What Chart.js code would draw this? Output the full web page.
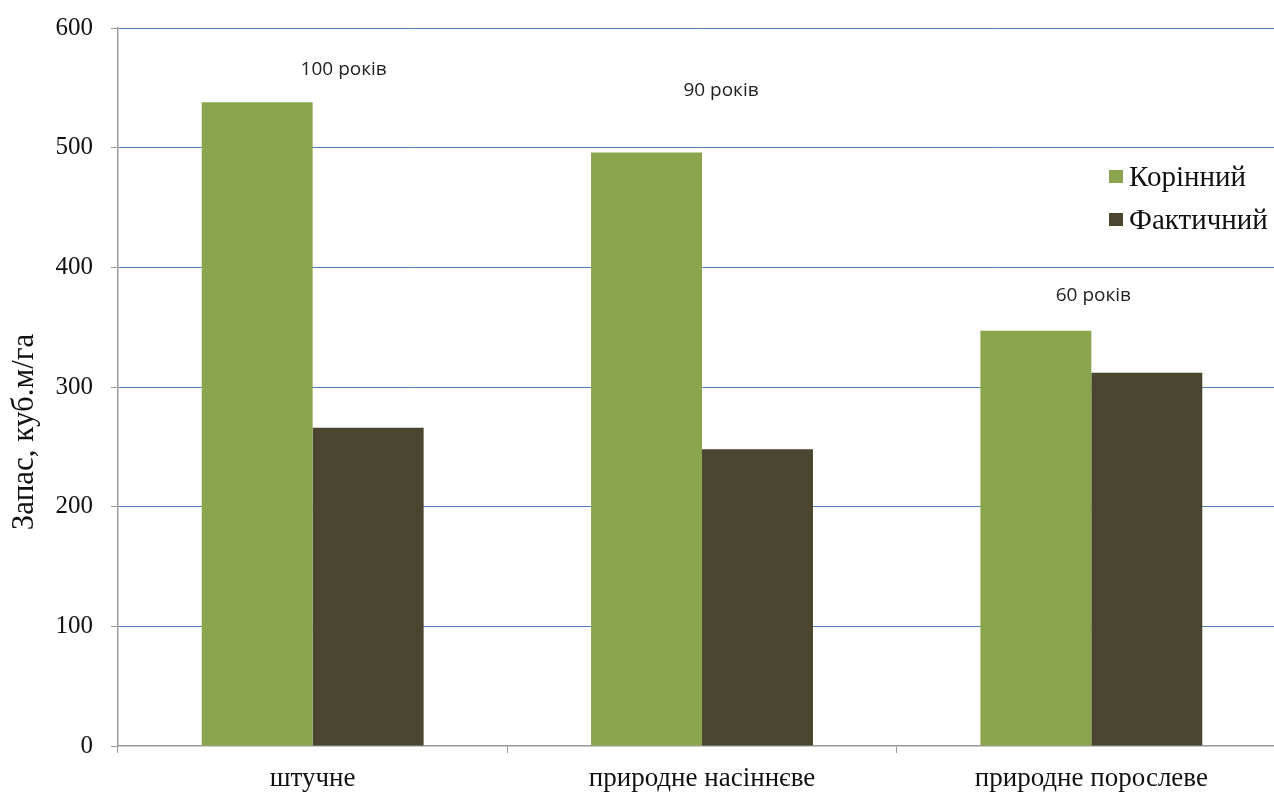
<!DOCTYPE html>
<html>
<head>
<meta charset="utf-8">
<script src="https://cdn.jsdelivr.net/npm/chart.js@4.4.0/dist/chart.umd.min.js"></script>
<style>
    html, body { margin: 0; padding: 0; background: #fff; overflow: hidden; }
    #wrap { width: 1290px; height: 793px; }
</style>
</head>
<body>
<div id="wrap"><canvas id="stock-chart"></canvas></div>
<script>
// Data
const categories = ['штучне', 'природне насіннєве', 'природне порослеве'];
const seriesNames = ['Корінний', 'Фактичний'];
const rootStock = [538, 496, 347];
const actualStock = [266, 248, 312];
const yTicks = [0, 100, 200, 300, 400, 500, 600];
const yTitle = 'Запас, куб.м/га';
const ageLabels = ['100 років', '90 років', '60 років'];
const ageLabelLevels = [565, 548, 376];

const colors = ['#8aa54e', '#4a452e'];
const serif = '"Liberation Serif", "Times New Roman", serif';

// Age notes above each group
const ageNotes = {
    id: 'ageNotes',
    afterDatasetsDraw(chart) {
        const { ctx, scales: { x, y } } = chart;
        const shifts = [31, 19, 2];
        ctx.save();
        ctx.font = '19px "Open Sans", "Liberation Sans", sans-serif';
        ctx.fillStyle = '#222';
        ctx.textAlign = 'center';
        ctx.textBaseline = 'middle';
        ageLabels.forEach((txt, i) => {
            ctx.fillText(txt, x.getPixelForValue(i) + shifts[i], y.getPixelForValue(ageLabelLevels[i]));
        });
        ctx.restore();
    }
};

// Legend inside the plot on the right, plus the vertical axis title
const sideLegend = {
    id: 'sideLegend',
    afterDraw(chart) {
        const { ctx } = chart;
        ctx.save();
        ctx.font = '29px ' + serif;
        ctx.textBaseline = 'middle';
        chart.data.datasets.forEach((ds, i) => {
            const cy = 177 + i * 43;
            ctx.fillStyle = ds.backgroundColor;
            ctx.fillRect(1109, cy - 7, 14, 13);
            ctx.fillStyle = '#111';
            ctx.fillText(ds.label, 1129, cy + 1);
        });

        ctx.translate(25, 432);
        ctx.rotate(-Math.PI / 2);
        ctx.textAlign = 'center';
        ctx.font = '31px ' + serif;
        ctx.fillText(yTitle, 0, 0);
        ctx.restore();
    }
};

new Chart(document.getElementById('stock-chart'), {
    type: 'bar',
    data: {
        labels: categories,
        datasets: [
            { label: seriesNames[0], data: rootStock, backgroundColor: colors[0] },
            { label: seriesNames[1], data: actualStock, backgroundColor: colors[1] }
        ]
    },
    options: {
        responsive: true,
        maintainAspectRatio: false,
        animation: false,
        layout: { padding: { top: 28, right: 4, left: 0, bottom: 0 } },
        plugins: {
            legend: { display: false },
            tooltip: { enabled: false }
        },
        datasets: {
            bar: { categoryPercentage: 0.57, barPercentage: 1 }
        },
        scales: {
            x: {
                grid: {
                    offset: true,
                    drawOnChartArea: false,
                    drawTicks: true,
                    tickLength: 7,
                    tickColor: '#9a9a9a'
                },
                border: { color: '#9a9a9a', width: 1.5 },
                ticks: {
                    color: '#111',
                    font: { family: serif, size: 27 },
                    padding: 10
                },
                afterFit: s => { s.height = 47; }
            },
            y: {
                min: 0,
                max: 600,
                afterBuildTicks: s => { s.ticks = yTicks.map(v => ({ value: v })); },
                grid: {
                    color: ctx => ctx.tick && ctx.tick.value === 0 ? 'rgba(0,0,0,0)' : '#4f81bd',
                    lineWidth: 1,
                    drawTicks: true,
                    tickLength: 7,
                    tickColor: '#9a9a9a'
                },
                border: { color: '#9a9a9a', width: 1.5 },
                ticks: {
                    color: '#111',
                    font: { family: serif, size: 25 },
                    padding: 18
                },
                afterFit: s => {
                    s.width = 118;
                    s.paddingTop = 0;
                    s.paddingBottom = 0;
                }
            }
        }
    },
    plugins: [ageNotes, sideLegend]
});
</script>
</body>
</html>
